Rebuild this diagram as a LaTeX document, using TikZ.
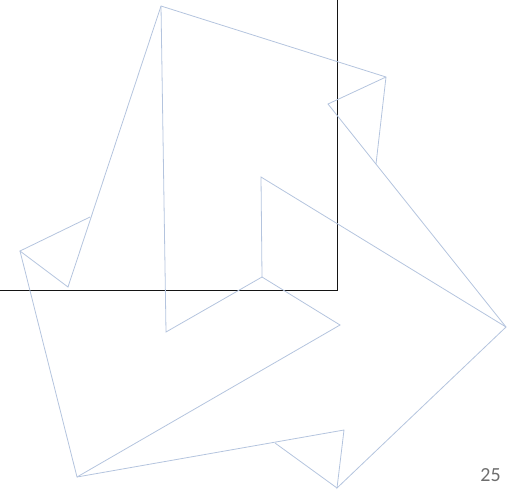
\documentclass[tikz,border=0pt]{standalone}
\usepackage{fontspec}
\setmainfont{Carlito}
\definecolor{shapeline}{RGB}{180,196,222}
\definecolor{framecol}{RGB}{20,20,20}
\definecolor{numgray}{RGB}{110,110,110}
\begin{document}
\begin{tikzpicture}[x=1pt,y=-1pt,
  outline/.style={draw=shapeline,line width=0.8pt,line join=miter},
  frameline/.style={draw=framecol,line width=1pt}]
\useasboundingbox (0,0) rectangle (513,491);
% vertices
\coordinate (T) at (161,6);
\coordinate (TR) at (386,77);
\coordinate (TN) at (328,104);
\coordinate (TM) at (376,164);
\coordinate (R) at (506,327);
\coordinate (RN) at (261,177);
\coordinate (C) at (262,277);
\coordinate (CL) at (166,332);
\coordinate (CR) at (340,325);
\coordinate (B) at (337,488);
\coordinate (BR) at (344,430);
\coordinate (BM) at (275,443);
\coordinate (BL) at (77,477);
\coordinate (L) at (20,251);
\coordinate (LU) at (90,217);
\coordinate (LD) at (68,287);
% frame
\coordinate (F1) at (337,0);
\coordinate (F2) at (337,290.5);
\coordinate (F3) at (0,290.5);
\draw[frameline] (F1) -- (F2) -- (F3);
% shapes
\draw[outline] (LU) -- (L) -- (LD) -- (T) -- (TR) -- (TM);
\draw[outline] (TR) -- (TN) -- (R) -- (B) -- (BR) -- (BL) -- (L);
\draw[outline] (T) -- (CL) -- (C) -- (RN) -- (R);
\draw[outline] (C) -- (CR) -- (BL);
\draw[outline] (B) -- (BM);
% page number
\node[text=numgray,font=\fontsize{20}{24}\selectfont,inner sep=0pt] (num) at (490.5,475.5) {25};
\end{tikzpicture}
\end{document}
